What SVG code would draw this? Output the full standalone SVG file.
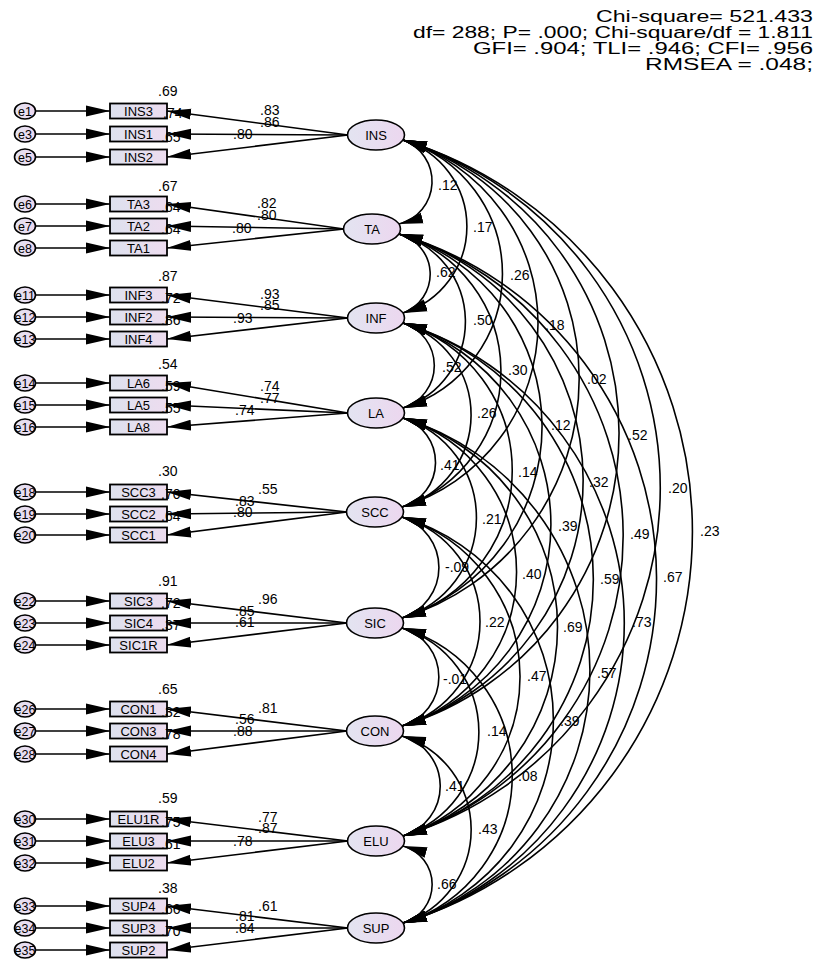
<svg xmlns="http://www.w3.org/2000/svg" width="820" height="959" viewBox="0 0 820 959">
<defs>
<linearGradient id="gr" x1="0" y1="0" x2="1" y2="0"><stop offset="0" stop-color="#dde1ee"/><stop offset="1" stop-color="#eddcef"/></linearGradient>
<linearGradient id="ge" x1="0" y1="0" x2="1" y2="0"><stop offset="0" stop-color="#e3e4f1"/><stop offset="1" stop-color="#ecd7ef"/></linearGradient>
<marker id="ah" markerUnits="userSpaceOnUse" markerWidth="26" markerHeight="12" refX="24" refY="6" orient="auto-start-reverse"><path d="M0,0.5 L24,6 L0,11.5 z" fill="#000"/></marker>
<style>
text{font-family:"Liberation Sans",Arial,sans-serif;fill:#000}
.lbl{font-size:14px}
.nt{font-size:13px;text-anchor:middle}
.et{font-size:12.5px;text-anchor:middle}
.hd{font-size:16px}
rect.ob{fill:url(#gr);stroke:#000;stroke-width:1.8}
ellipse.lv{fill:url(#ge);stroke:#000;stroke-width:1.6}
ellipse.er{fill:url(#ge);stroke:#000;stroke-width:1.6}
#connectors line,#connectors path{stroke:#000;stroke-width:1.6;fill:none}
#connectors line{marker-end:url(#ah)}
#connectors path{marker-start:url(#ah);marker-end:url(#ah)}
</style>
</defs>
<g id="fit">
<text class="hd" x="596" y="22" textLength="217" lengthAdjust="spacingAndGlyphs">Chi-square= 521.433</text>
<text class="hd" x="413" y="38" textLength="400" lengthAdjust="spacingAndGlyphs">df= 288; P= .000; Chi-square/df = 1.811</text>
<text class="hd" x="473" y="54" textLength="340" lengthAdjust="spacingAndGlyphs">GFI= .904; TLI= .946; CFI= .956</text>
<text class="hd" x="645" y="70" textLength="168" lengthAdjust="spacingAndGlyphs">RMSEA = .048;</text>
</g>
<g id="errors">
<g id="e1"><ellipse class="er" cx="25" cy="111" rx="10.5" ry="8"/><text class="et" x="25" y="115.5">e1</text></g>
<g id="e3"><ellipse class="er" cx="25" cy="134" rx="10.5" ry="8"/><text class="et" x="25" y="138.5">e3</text></g>
<g id="e5"><ellipse class="er" cx="25" cy="157" rx="10.5" ry="8"/><text class="et" x="25" y="161.5">e5</text></g>
<g id="e6"><ellipse class="er" cx="25" cy="204" rx="10.5" ry="8"/><text class="et" x="25" y="208.5">e6</text></g>
<g id="e7"><ellipse class="er" cx="25" cy="226" rx="10.5" ry="8"/><text class="et" x="25" y="230.5">e7</text></g>
<g id="e8"><ellipse class="er" cx="25" cy="248" rx="10.5" ry="8"/><text class="et" x="25" y="252.5">e8</text></g>
<g id="e11"><ellipse class="er" cx="25" cy="295" rx="10.5" ry="8"/><text class="et" x="25" y="299.5">e11</text></g>
<g id="e12"><ellipse class="er" cx="25" cy="317" rx="10.5" ry="8"/><text class="et" x="25" y="321.5">e12</text></g>
<g id="e13"><ellipse class="er" cx="25" cy="339" rx="10.5" ry="8"/><text class="et" x="25" y="343.5">e13</text></g>
<g id="e14"><ellipse class="er" cx="25" cy="383" rx="10.5" ry="8"/><text class="et" x="25" y="387.5">e14</text></g>
<g id="e15"><ellipse class="er" cx="25" cy="405" rx="10.5" ry="8"/><text class="et" x="25" y="409.5">e15</text></g>
<g id="e16"><ellipse class="er" cx="25" cy="427" rx="10.5" ry="8"/><text class="et" x="25" y="431.5">e16</text></g>
<g id="e18"><ellipse class="er" cx="25" cy="492" rx="10.5" ry="8"/><text class="et" x="25" y="496.5">e18</text></g>
<g id="e19"><ellipse class="er" cx="25" cy="514" rx="10.5" ry="8"/><text class="et" x="25" y="518.5">e19</text></g>
<g id="e20"><ellipse class="er" cx="25" cy="535" rx="10.5" ry="8"/><text class="et" x="25" y="539.5">e20</text></g>
<g id="e22"><ellipse class="er" cx="25" cy="601" rx="10.5" ry="8"/><text class="et" x="25" y="605.5">e22</text></g>
<g id="e23"><ellipse class="er" cx="25" cy="623" rx="10.5" ry="8"/><text class="et" x="25" y="627.5">e23</text></g>
<g id="e24"><ellipse class="er" cx="25" cy="645" rx="10.5" ry="8"/><text class="et" x="25" y="649.5">e24</text></g>
<g id="e26"><ellipse class="er" cx="25" cy="709" rx="10.5" ry="8"/><text class="et" x="25" y="713.5">e26</text></g>
<g id="e27"><ellipse class="er" cx="25" cy="731" rx="10.5" ry="8"/><text class="et" x="25" y="735.5">e27</text></g>
<g id="e28"><ellipse class="er" cx="25" cy="754" rx="10.5" ry="8"/><text class="et" x="25" y="758.5">e28</text></g>
<g id="e30"><ellipse class="er" cx="25" cy="819" rx="10.5" ry="8"/><text class="et" x="25" y="823.5">e30</text></g>
<g id="e31"><ellipse class="er" cx="25" cy="841" rx="10.5" ry="8"/><text class="et" x="25" y="845.5">e31</text></g>
<g id="e32"><ellipse class="er" cx="25" cy="863" rx="10.5" ry="8"/><text class="et" x="25" y="867.5">e32</text></g>
<g id="e33"><ellipse class="er" cx="25" cy="906" rx="10.5" ry="8"/><text class="et" x="25" y="910.5">e33</text></g>
<g id="e34"><ellipse class="er" cx="25" cy="928" rx="10.5" ry="8"/><text class="et" x="25" y="932.5">e34</text></g>
<g id="e35"><ellipse class="er" cx="25" cy="950" rx="10.5" ry="8"/><text class="et" x="25" y="954.5">e35</text></g>
</g>
<g id="indicators">
<g id="INS3"><rect class="ob" x="110" y="103.5" width="57" height="15"/><text class="nt" x="138.5" y="115.5">INS3</text></g>
<g id="INS1"><rect class="ob" x="110" y="126.5" width="57" height="15"/><text class="nt" x="138.5" y="138.5">INS1</text></g>
<g id="INS2"><rect class="ob" x="110" y="149.5" width="57" height="15"/><text class="nt" x="138.5" y="161.5">INS2</text></g>
<g id="TA3"><rect class="ob" x="110" y="196.5" width="57" height="15"/><text class="nt" x="138.5" y="208.5">TA3</text></g>
<g id="TA2"><rect class="ob" x="110" y="218.5" width="57" height="15"/><text class="nt" x="138.5" y="230.5">TA2</text></g>
<g id="TA1"><rect class="ob" x="110" y="240.5" width="57" height="15"/><text class="nt" x="138.5" y="252.5">TA1</text></g>
<g id="INF3"><rect class="ob" x="110" y="287.5" width="57" height="15"/><text class="nt" x="138.5" y="299.5">INF3</text></g>
<g id="INF2"><rect class="ob" x="110" y="309.5" width="57" height="15"/><text class="nt" x="138.5" y="321.5">INF2</text></g>
<g id="INF4"><rect class="ob" x="110" y="331.5" width="57" height="15"/><text class="nt" x="138.5" y="343.5">INF4</text></g>
<g id="LA6"><rect class="ob" x="110" y="375.5" width="57" height="15"/><text class="nt" x="138.5" y="387.5">LA6</text></g>
<g id="LA5"><rect class="ob" x="110" y="397.5" width="57" height="15"/><text class="nt" x="138.5" y="409.5">LA5</text></g>
<g id="LA8"><rect class="ob" x="110" y="419.5" width="57" height="15"/><text class="nt" x="138.5" y="431.5">LA8</text></g>
<g id="SCC3"><rect class="ob" x="110" y="484.5" width="57" height="15"/><text class="nt" x="138.5" y="496.5">SCC3</text></g>
<g id="SCC2"><rect class="ob" x="110" y="506.5" width="57" height="15"/><text class="nt" x="138.5" y="518.5">SCC2</text></g>
<g id="SCC1"><rect class="ob" x="110" y="527.5" width="57" height="15"/><text class="nt" x="138.5" y="539.5">SCC1</text></g>
<g id="SIC3"><rect class="ob" x="110" y="593.5" width="57" height="15"/><text class="nt" x="138.5" y="605.5">SIC3</text></g>
<g id="SIC4"><rect class="ob" x="110" y="615.5" width="57" height="15"/><text class="nt" x="138.5" y="627.5">SIC4</text></g>
<g id="SIC1R"><rect class="ob" x="110" y="637.5" width="57" height="15"/><text class="nt" x="138.5" y="649.5">SIC1R</text></g>
<g id="CON1"><rect class="ob" x="110" y="701.5" width="57" height="15"/><text class="nt" x="138.5" y="713.5">CON1</text></g>
<g id="CON3"><rect class="ob" x="110" y="723.5" width="57" height="15"/><text class="nt" x="138.5" y="735.5">CON3</text></g>
<g id="CON4"><rect class="ob" x="110" y="746.5" width="57" height="15"/><text class="nt" x="138.5" y="758.5">CON4</text></g>
<g id="ELU1R"><rect class="ob" x="110" y="811.5" width="57" height="15"/><text class="nt" x="138.5" y="823.5">ELU1R</text></g>
<g id="ELU3"><rect class="ob" x="110" y="833.5" width="57" height="15"/><text class="nt" x="138.5" y="845.5">ELU3</text></g>
<g id="ELU2"><rect class="ob" x="110" y="855.5" width="57" height="15"/><text class="nt" x="138.5" y="867.5">ELU2</text></g>
<g id="SUP4"><rect class="ob" x="110" y="898.5" width="57" height="15"/><text class="nt" x="138.5" y="910.5">SUP4</text></g>
<g id="SUP3"><rect class="ob" x="110" y="920.5" width="57" height="15"/><text class="nt" x="138.5" y="932.5">SUP3</text></g>
<g id="SUP2"><rect class="ob" x="110" y="942.5" width="57" height="15"/><text class="nt" x="138.5" y="954.5">SUP2</text></g>
</g>
<g id="factors">
<g id="INS"><ellipse class="lv" cx="376" cy="135" rx="28.5" ry="15"/><text class="nt" x="376" y="139.5">INS</text></g>
<g id="TA"><ellipse class="lv" cx="372" cy="229" rx="28.5" ry="15"/><text class="nt" x="372" y="233.5">TA</text></g>
<g id="INF"><ellipse class="lv" cx="376" cy="318" rx="28.5" ry="15"/><text class="nt" x="376" y="322.5">INF</text></g>
<g id="LA"><ellipse class="lv" cx="376" cy="413" rx="28.5" ry="15"/><text class="nt" x="376" y="417.5">LA</text></g>
<g id="SCC"><ellipse class="lv" cx="375" cy="512" rx="28.5" ry="15"/><text class="nt" x="375" y="516.5">SCC</text></g>
<g id="SIC"><ellipse class="lv" cx="375" cy="623" rx="28.5" ry="15"/><text class="nt" x="375" y="627.5">SIC</text></g>
<g id="CON"><ellipse class="lv" cx="375" cy="731" rx="28.5" ry="15"/><text class="nt" x="375" y="735.5">CON</text></g>
<g id="ELU"><ellipse class="lv" cx="376" cy="841" rx="28.5" ry="15"/><text class="nt" x="376" y="845.5">ELU</text></g>
<g id="SUP"><ellipse class="lv" cx="376" cy="928" rx="28.5" ry="15"/><text class="nt" x="376" y="932.5">SUP</text></g>
</g>
<g id="labels" class="lbl">
<text class="lbl" x="158" y="96">.69</text><text class="lbl" x="163" y="118">.74</text><text class="lbl" x="161" y="142">.65</text>
<text class="lbl" x="260" y="115">.83</text><text class="lbl" x="260" y="127">.86</text><text class="lbl" x="233" y="139">.80</text>
<text class="lbl" x="158" y="191">.67</text><text class="lbl" x="161" y="212">.64</text><text class="lbl" x="161" y="234">.64</text>
<text class="lbl" x="257" y="208">.82</text><text class="lbl" x="257" y="220">.80</text><text class="lbl" x="232" y="233">.80</text>
<text class="lbl" x="158" y="281">.87</text><text class="lbl" x="161" y="303">.72</text><text class="lbl" x="161" y="325">.86</text>
<text class="lbl" x="260" y="299">.93</text><text class="lbl" x="260" y="310">.85</text><text class="lbl" x="233" y="323">.93</text>
<text class="lbl" x="158" y="369">.54</text><text class="lbl" x="161" y="391">.59</text><text class="lbl" x="161" y="413">.55</text>
<text class="lbl" x="260" y="391">.74</text><text class="lbl" x="260" y="403">.77</text><text class="lbl" x="235" y="415">.74</text>
<text class="lbl" x="158" y="476">.30</text><text class="lbl" x="161" y="499">.70</text><text class="lbl" x="161" y="521">.64</text>
<text class="lbl" x="258" y="494">.55</text><text class="lbl" x="235" y="506">.83</text><text class="lbl" x="233" y="517">.80</text>
<text class="lbl" x="158" y="586">.91</text><text class="lbl" x="161" y="608">.72</text><text class="lbl" x="161" y="630">.37</text>
<text class="lbl" x="258" y="604">.96</text><text class="lbl" x="235" y="616">.85</text><text class="lbl" x="235" y="627">.61</text>
<text class="lbl" x="158" y="694">.65</text><text class="lbl" x="161" y="717">.32</text><text class="lbl" x="161" y="739">.78</text>
<text class="lbl" x="258" y="713">.81</text><text class="lbl" x="235" y="724">.56</text><text class="lbl" x="233" y="736">.88</text>
<text class="lbl" x="158" y="803">.59</text><text class="lbl" x="161" y="827">.75</text><text class="lbl" x="161" y="849">.61</text>
<text class="lbl" x="258" y="822">.77</text><text class="lbl" x="258" y="833">.87</text><text class="lbl" x="233" y="846">.78</text>
<text class="lbl" x="158" y="893">.38</text><text class="lbl" x="161" y="914">.66</text><text class="lbl" x="161" y="936">.70</text>
<text class="lbl" x="258" y="911">.61</text><text class="lbl" x="235" y="921">.81</text><text class="lbl" x="235" y="933">.84</text>
<text class="lbl" x="438" y="190">.12</text><text class="lbl" x="473" y="232">.17</text><text class="lbl" x="510" y="280">.26</text><text class="lbl" x="545" y="330">.18</text>
<text class="lbl" x="587" y="384">.02</text><text class="lbl" x="628" y="440">.52</text><text class="lbl" x="668" y="493">.20</text><text class="lbl" x="700" y="536">.23</text>
<text class="lbl" x="436" y="277">.62</text><text class="lbl" x="473" y="325">.50</text><text class="lbl" x="508" y="375">.30</text><text class="lbl" x="551" y="430">.12</text>
<text class="lbl" x="589" y="487">.32</text><text class="lbl" x="630" y="539">.49</text><text class="lbl" x="663" y="582">.67</text>
<text class="lbl" x="442" y="372">.52</text><text class="lbl" x="477" y="418">.26</text><text class="lbl" x="518" y="477">.14</text><text class="lbl" x="558" y="531">.39</text>
<text class="lbl" x="600" y="584">.59</text><text class="lbl" x="632" y="627">.73</text>
<text class="lbl" x="440" y="470">.41</text><text class="lbl" x="482" y="524">.21</text><text class="lbl" x="522" y="579">.40</text><text class="lbl" x="563" y="632">.69</text><text class="lbl" x="597" y="678">.57</text>
<text class="lbl" x="445" y="572">-.09</text><text class="lbl" x="485" y="627">.22</text><text class="lbl" x="527" y="681">.47</text><text class="lbl" x="560" y="726">.39</text>
<text class="lbl" x="443" y="684">-.01</text><text class="lbl" x="487" y="736">.14</text><text class="lbl" x="518" y="781">.08</text>
<text class="lbl" x="445" y="791">.41</text><text class="lbl" x="478" y="834">.43</text>
<text class="lbl" x="437" y="889">.66</text>
</g>
<g id="connectors">
<line x1="35" y1="111" x2="110" y2="111"/><line x1="35" y1="134" x2="110" y2="134"/><line x1="35" y1="157" x2="110" y2="157"/>
<line x1="35" y1="204" x2="110" y2="204"/><line x1="35" y1="226" x2="110" y2="226"/><line x1="35" y1="248" x2="110" y2="248"/>
<line x1="35" y1="295" x2="110" y2="295"/><line x1="35" y1="317" x2="110" y2="317"/><line x1="35" y1="339" x2="110" y2="339"/>
<line x1="35" y1="383" x2="110" y2="383"/><line x1="35" y1="405" x2="110" y2="405"/><line x1="35" y1="427" x2="110" y2="427"/>
<line x1="35" y1="492" x2="110" y2="492"/><line x1="35" y1="514" x2="110" y2="514"/><line x1="35" y1="535" x2="110" y2="535"/>
<line x1="35" y1="601" x2="110" y2="601"/><line x1="35" y1="623" x2="110" y2="623"/><line x1="35" y1="645" x2="110" y2="645"/>
<line x1="35" y1="709" x2="110" y2="709"/><line x1="35" y1="731" x2="110" y2="731"/><line x1="35" y1="754" x2="110" y2="754"/>
<line x1="35" y1="819" x2="110" y2="819"/><line x1="35" y1="841" x2="110" y2="841"/><line x1="35" y1="863" x2="110" y2="863"/>
<line x1="35" y1="906" x2="110" y2="906"/><line x1="35" y1="928" x2="110" y2="928"/><line x1="35" y1="950" x2="110" y2="950"/>
<line x1="348" y1="135" x2="167" y2="111"/><line x1="348" y1="135" x2="167" y2="134"/><line x1="348" y1="135" x2="167" y2="157"/>
<line x1="344" y1="229" x2="167" y2="204"/><line x1="344" y1="229" x2="167" y2="226"/><line x1="344" y1="229" x2="167" y2="248"/>
<line x1="348" y1="318" x2="167" y2="295"/><line x1="348" y1="318" x2="167" y2="317"/><line x1="348" y1="318" x2="167" y2="339"/>
<line x1="348" y1="413" x2="167" y2="383"/><line x1="348" y1="413" x2="167" y2="405"/><line x1="348" y1="413" x2="167" y2="427"/>
<line x1="347" y1="512" x2="167" y2="492"/><line x1="347" y1="512" x2="167" y2="514"/><line x1="347" y1="512" x2="167" y2="535"/>
<line x1="347" y1="623" x2="167" y2="601"/><line x1="347" y1="623" x2="167" y2="623"/><line x1="347" y1="623" x2="167" y2="645"/>
<line x1="347" y1="731" x2="167" y2="709"/><line x1="347" y1="731" x2="167" y2="731"/><line x1="347" y1="731" x2="167" y2="754"/>
<line x1="348" y1="841" x2="167" y2="819"/><line x1="348" y1="841" x2="167" y2="841"/><line x1="348" y1="841" x2="167" y2="863"/>
<line x1="348" y1="928" x2="167" y2="906"/><line x1="348" y1="928" x2="167" y2="928"/><line x1="348" y1="928" x2="167" y2="950"/>
<path d="M403,140 A44,44 0 0 1 399,224"/>
<path d="M403,140 A90.5,90.5 0 0 1 403,313"/>
<path d="M403,140 A140,140 0 0 1 403,408"/>
<path d="M403,140 A192,192 0 0 1 402,507"/>
<path d="M403,140 A250,250 0 0 1 402,618"/>
<path d="M403,140 A306.5,306.5 0 0 1 402,726"/>
<path d="M403,140 A364,364 0 0 1 403,836"/>
<path d="M403,140 A409.5,409.5 0 0 1 403,923"/>
<path d="M399,234 A41.4,41.4 0 0 1 403,313"/>
<path d="M399,234 A91,91 0 0 1 403,408"/>
<path d="M399,234 A143,143 0 0 1 402,507"/>
<path d="M399,234 A201,201 0 0 1 402,618"/>
<path d="M399,234 A257,257 0 0 1 402,726"/>
<path d="M399,234 A315,315 0 0 1 403,836"/>
<path d="M399,234 A360,360 0 0 1 403,923"/>
<path d="M403,323 A44.5,44.5 0 0 1 403,408"/>
<path d="M403,323 A96,96 0 0 1 402,507"/>
<path d="M403,323 A154,154 0 0 1 402,618"/>
<path d="M403,323 A211,211 0 0 1 402,726"/>
<path d="M403,323 A268,268 0 0 1 403,836"/>
<path d="M403,323 A314,314 0 0 1 403,923"/>
<path d="M403,418 A46.5,46.5 0 0 1 402,507"/>
<path d="M403,418 A104.6,104.6 0 0 1 402,618"/>
<path d="M403,418 A161,161 0 0 1 402,726"/>
<path d="M403,418 A218.6,218.6 0 0 1 403,836"/>
<path d="M403,418 A264,264 0 0 1 403,923"/>
<path d="M402,517 A53,53 0 0 1 402,618"/>
<path d="M402,517 A109,109 0 0 1 402,726"/>
<path d="M402,517 A167,167 0 0 1 403,836"/>
<path d="M402,517 A212,212 0 0 1 403,923"/>
<path d="M402,628 A51,51 0 0 1 402,726"/>
<path d="M402,628 A109,109 0 0 1 403,836"/>
<path d="M402,628 A154,154 0 0 1 403,923"/>
<path d="M402,736 A52,52 0 0 1 403,836"/>
<path d="M402,736 A98,98 0 0 1 403,923"/>
<path d="M403,846 A40,40 0 0 1 403,923"/>
</g>
</svg>
